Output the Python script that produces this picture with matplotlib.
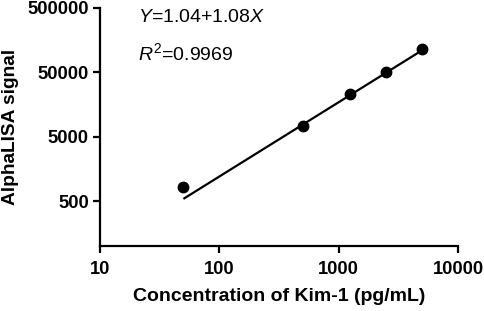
import matplotlib
matplotlib.use("Agg")
import matplotlib.pyplot as plt
from matplotlib.ticker import FixedLocator, FixedFormatter, NullLocator

plt.rcParams['font.family'] = ['Liberation Sans', 'DejaVu Sans']
plt.rcParams['mathtext.fontset'] = 'custom'
plt.rcParams['mathtext.rm'] = 'Liberation Sans'
plt.rcParams['mathtext.it'] = 'Liberation Sans:italic'
plt.rcParams['mathtext.bf'] = 'Liberation Sans:bold'

conc = [50, 500, 1250, 2500, 5000]
signal = [830, 7400, 22800, 51500, 115000]
fit_x = [50, 5000]
fit_y = [540, 110000]
x_ticks = [10, 100, 1000, 10000]
x_labels = ["10", "100", "1000", "10000"]
y_ticks = [500, 5000, 50000, 500000]
y_labels = ["500", "5000", "50000", "500000"]

fig = plt.figure(figsize=(4.84, 3.11), dpi=100)
ax = fig.add_axes([100/484, 1-246/311, 358/484, 238/311])

ax.plot(fit_x, fit_y, color='black', lw=1.6, solid_capstyle='butt')
ax.plot(conc, signal, 'o', color='black', ms=7.5)

ax.set_xscale('log')
ax.set_yscale('log')
ax.set_xlim(10, 10000)
ax.set_ylim(100, 500000)
ax.xaxis.set_major_locator(FixedLocator(x_ticks))
ax.xaxis.set_major_formatter(FixedFormatter(x_labels))
ax.yaxis.set_major_locator(FixedLocator(y_ticks))
ax.yaxis.set_major_formatter(FixedFormatter(y_labels))
ax.xaxis.set_minor_locator(NullLocator())
ax.yaxis.set_minor_locator(NullLocator())

for s in ['top', 'right']:
    ax.spines[s].set_visible(False)
for s in ['left', 'bottom']:
    ax.spines[s].set_linewidth(1.6)
ax.spines['left'].set_bounds(100, 500000)
ax.tick_params(axis='both', which='major', length=5, width=1.6, labelsize=13.2, pad=3)
for lab in ax.get_xticklabels() + ax.get_yticklabels():
    lab.set_fontweight('bold')
ax.tick_params(axis='x', pad=6)

ax.set_xlabel("Concentration of Kim-1 (pg/mL)", fontsize=14, fontweight='bold', labelpad=7)
ax.set_ylabel("AlphaLISA signal", fontsize=13.8, fontweight='bold', labelpad=6)

ax.text(0.105, 0.958, r"$\mathit{Y}$=1.04+1.08$\mathit{X}$", transform=ax.transAxes,
        fontsize=14, va='center', ha='left')
ax.text(0.105, 0.81, r"$\mathit{R}^{2}$=0.9969", transform=ax.transAxes,
        fontsize=14, va='center', ha='left')

fig.savefig("out.png", dpi=100)
